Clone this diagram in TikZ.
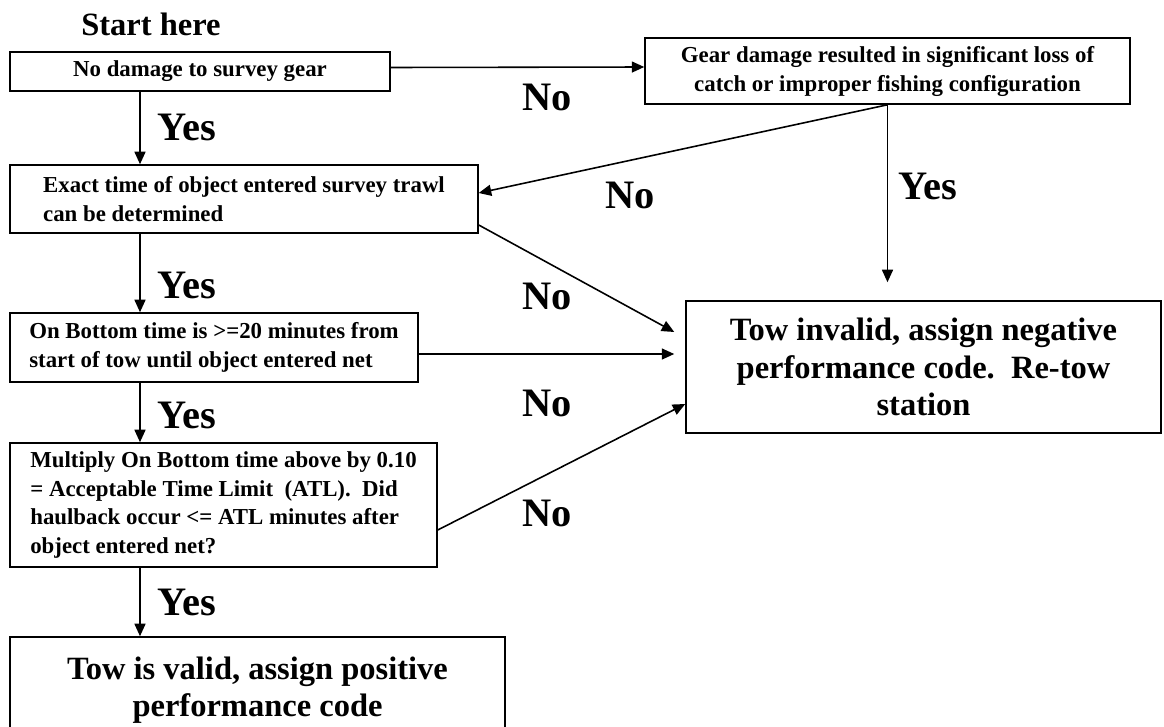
\documentclass[tikz,border=0pt]{standalone}
\usepackage{fontspec}
\setmainfont{Liberation Serif}
\usetikzlibrary{arrows.meta, calc}

\begin{document}
\begin{tikzpicture}[x=0.02cm, y=-0.02cm, line width=0.9pt, >={Triangle[length=0.25cm,width=0.22cm]}]
    \tikzstyle{every node} = [font=\bfseries]
    \tikzstyle{box} = [draw, rectangle, inner sep=0pt, font=\fontsize{13}{16.5}\selectfont\bfseries]
    \tikzstyle{big} = [font=\fontsize{18.5}{21.3}\selectfont\bfseries]
    \tikzstyle{answer} = [font=\fontsize{23}{25}\selectfont\bfseries]
    \useasboundingbox (0,0) rectangle (1164,727);
    \clip (0,0) rectangle (1164,727);
    \node (start) [big] at (151,24) {Start here};
    \node (nodmg) [box, minimum width=7.6cm, minimum height=0.78cm] at (200,71.5) {No damage to survey gear};
    \node (gear) [box, align=center, minimum width=9.7cm, minimum height=1.32cm] at (887.5,71)
        {Gear damage resulted in significant loss of\\catch or improper fishing configuration};
    \node (exact) [box, align=left, minimum width=9.36cm, minimum height=1.36cm] at (244,199)
        {Exact time of object entered survey trawl\\can be determined};
    \node (ontime) [box, align=left, minimum width=8.16cm, minimum height=1.38cm] at (214,347.5)
        {On Bottom time is >=20 minutes from\\start of tow until object entered net};
    \node (atl) [box, align=left, minimum width=8.54cm, minimum height=2.48cm] at (223.5,505)
        {Multiply On Bottom time above by 0.10\\= Acceptable Time Limit~~(ATL).~~Did\\haulback occur <= ATL minutes after\\object entered net?};
    \node (valid) [box, big, align=center, minimum width=9.9cm, minimum height=2.12cm] at (257.5,690)
        {Tow is valid, assign positive\\performance code};
    \node (invalid) [box, big, align=center, minimum width=9.5cm, minimum height=2.64cm] at (923.5,367)
        {Tow invalid, assign negative\\performance code.~~Re-tow\\station};
    % answers
    \node (yes1) [answer] at (187,127) {Yes};
    \node (yes2) [answer] at (187,285) {Yes};
    \node (yes3) [answer] at (187,415) {Yes};
    \node (yes4) [answer] at (187,602) {Yes};
    \node (yes5) [answer] at (928,186) {Yes};
    \node (no1) [answer] at (547,97) {No};
    \node (no2) [answer] at (630,195) {No};
    \node (no3) [answer] at (547,296) {No};
    \node (no4) [answer] at (547,403) {No};
    \node (no5) [answer] at (547,513) {No};
    % connectors
    \coordinate (spine) at (140,0);
    \foreach \a/\b in {nodmg/exact, ontime/atl, exact/ontime, atl/valid}
      \draw [->] (\a.south -| spine) -- (\b.north -| spine);
    \draw [->] ($(nodmg.east)+(0,-4)$) -- ($(gear.west)+(0,-4)$);
    \draw [->] (gear.south) -- ($(exact.east)+(0,-6)$);
    \draw [->, shorten >=0.36cm] (gear.south) -- (gear.south |- invalid.north);
    \draw [->] ($(exact.east)+(0,26)$) -- ($(invalid.west)+(-11,-35)$);
    \draw [->] ($(ontime.east)+(0,6.5)$) -- ($(invalid.west)+(-11,-13)$);
    \draw [->] ($(atl.east)+(0,25)$) -- ($(invalid.west)+(0,37)$);
\end{tikzpicture}
\end{document}
